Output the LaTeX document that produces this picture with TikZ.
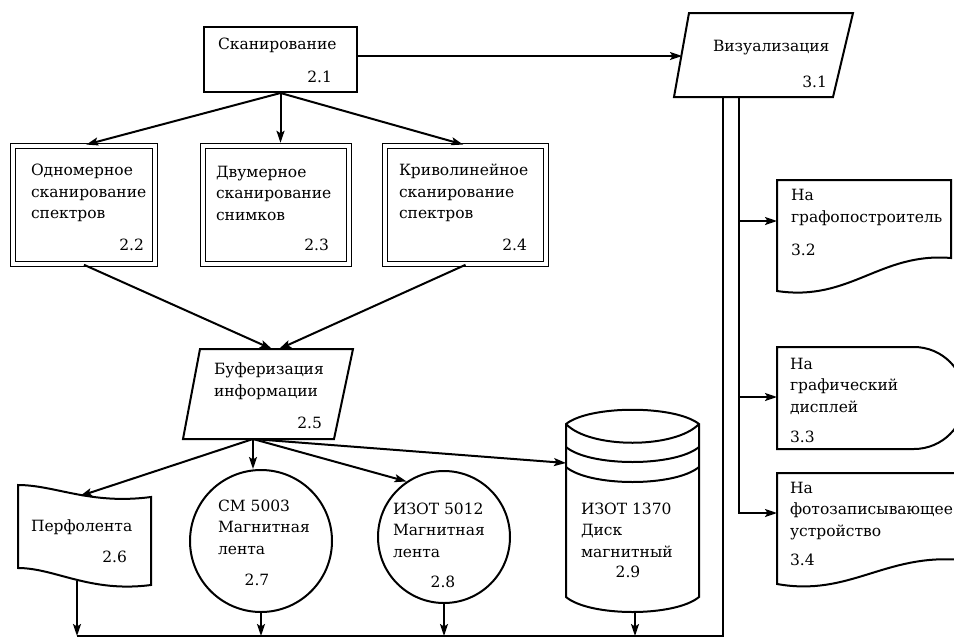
\documentclass[tikz,border=0pt]{standalone}
\usepackage{fontspec}
\setmainfont{DejaVu Serif}
\usetikzlibrary{arrows.meta,calc}

\begin{document}
\begin{tikzpicture}[x=1pt,y=-1pt,line width=2pt,
  arr/.style={-{Stealth[length=12pt,width=8pt,inset=2.5pt]}},
  lbl/.style={inner sep=0pt,align=left,font=\fontsize{15.5pt}{21.5pt}\selectfont},
  box/.style={draw,rectangle,inner sep=0pt},
  dbox/.style={draw,rectangle,inner sep=0pt,double,double distance=3.4pt,
    line width=1.6pt,minimum height=118pt},
  disc/.style={draw,circle,inner sep=0pt}]

\useasboundingbox (0,0) rectangle (954,638);
\fill[white] (0,0) rectangle (954,638);

% --- process blocks
\node[box,minimum width=153pt,minimum height=65pt] (s21) at (280.5,59.5) {};
\node[dbox,minimum width=142pt] (b22) at (84,205) {};
\node[dbox,minimum width=146pt] (b23) at (276,205) {};
\node[dbox,minimum width=161pt] (b24) at (465.5,205) {};

% --- magnetic tape reels
\node[disc,minimum size=142pt] (c27) at (261,541) {};
\node[disc,minimum size=132pt] (c28) at (444,537) {};

% --- input/output parallelograms
\draw (689,13) -- (853,13) -- (833,97) -- (674,97) -- cycle;
\draw (200,349) -- (353,349) -- (334,439) -- (183,439) -- cycle;

% --- punched tape
\draw (18,485) .. controls (55,485) and (90,505) .. (151,497) -- (151,585)
      .. controls (90,593) and (55,568) .. (18,568) -- cycle;

% --- magnetic disk
\draw (566,424) .. controls (590,405) and (675,405) .. (699,424) -- (699,597)
      .. controls (675,617) and (590,617) .. (566,597) -- cycle;
\draw (566,424) .. controls (590,449) and (675,449) .. (699,424);
\draw (566,447) .. controls (590,467) and (675,467) .. (699,447);
\draw (566,467) .. controls (590,487) and (675,487) .. (699,467);

% --- output devices
\draw (777,180) -- (951,180) -- (951,258) .. controls (880,252) and (850,302) .. (777,291) -- cycle;
\draw (777,347) -- (914,347) arc[start angle=-90,end angle=90,radius=51] -- (777,449) -- cycle;
\draw (777,473) -- (962,473) -- (962,560) .. controls (885,553) and (850,597) .. (777,584) -- cycle;

% --- connection points
\coordinate (viz-in) at (682,56);
\coordinate (viz-l) at (723,97);
\coordinate (viz-r) at (739,97);
\coordinate (buf-in-l) at (272,349);
\coordinate (buf-in-r) at (279,349);
\coordinate (buf-out) at (253,439);
\coordinate (tape-in) at (80,496);
\coordinate (tape-out) at (77,581);
\coordinate (disk-in) at (566,463);
\coordinate (disk-out) at (635,612);
\coordinate (bus-l) at (77,636);
\coordinate (bus-r) at (723,636);
\coordinate (in32) at (777,221);
\coordinate (in33) at (777,397);
\coordinate (in34) at (777,513);

% --- connectors
\draw[arr] (s21.east |- viz-in) -- (viz-in);
\draw[arr,shorten >=2.4pt] (s21.south) -- (b22.north);
\draw[arr,shorten >=2.4pt] (s21.south) -- (s21.south |- b23.north);
\draw[arr,shorten >=2.4pt] (s21.south) -- (b24.north);
\draw[arr] (b22.south) -- (buf-in-l);
\draw[arr] (b24.south) -- (buf-in-r);
\draw[arr] (buf-out) -- (tape-in);
\draw[arr] (buf-out) -- (buf-out |- c27.north);
\draw[arr] (buf-out) -- (c28.124);
\draw[arr] (buf-out) -- (disk-in);
\draw[arr] (tape-out) -- (tape-out |- bus-l);
\draw[arr] (c27.south) -- (c27.south |- bus-l);
\draw[arr] (c28.south) -- (c28.south |- bus-l);
\draw[arr] (disk-out) -- (disk-out |- bus-l);
\draw (viz-l) -- (bus-r) -- (bus-l);
\draw[arr] (viz-r) -- (viz-r |- in34) -- (in34);
\draw[arr] (viz-r |- in32) -- (in32);
\draw[arr] (viz-r |- in33) -- (in33);

% --- texts
\node[lbl,anchor=west] (t21) at (217,45) {Сканирование};
\node[lbl,anchor=east] (n21) at (333,77) {2.1};
\node[lbl,anchor=west] (t22) at (30,193) {Одномерное\\сканирование\\спектров};
\node[lbl,anchor=east] (n22) at (145,245) {2.2};
\node[lbl,anchor=west] (t23) at (215,193) {Двумерное\\сканирование\\снимков};
\node[lbl,anchor=east] (n23) at (330,245) {2.3};
\node[lbl,anchor=west] (t24) at (398,193) {Криволинейное\\сканирование\\спектров};
\node[lbl,anchor=east] (n24) at (528,245) {2.4};
\node[lbl,anchor=west] (t31) at (712,48) {Визуализация};
\node[lbl,anchor=east] (n31) at (828,82) {3.1};
\node[lbl,anchor=west] (t25) at (213,381) {Буферизация\\информации};
\node[lbl,anchor=east] (n25) at (323,423) {2.5};
\node[lbl,anchor=west] (t26) at (30,527) {Перфолента};
\node[lbl,anchor=east] (n26) at (128,557) {2.6};
\node[lbl,anchor=west] (t27) at (217,527) {СМ 5003\\Магнитная\\лента};
\node[lbl] (n27) at (257,580) {2.7};
\node[lbl,anchor=west] (t28) at (392,530) {ИЗОТ 5012\\Магнитная\\лента};
\node[lbl] (n28) at (443,582) {2.8};
\node[lbl,anchor=west] (t29) at (580,530) {ИЗОТ 1370\\Диск\\магнитный};
\node[lbl] (n29) at (628,572) {2.9};
\node[lbl,anchor=west] (t32) at (790,207.5) {На\\графопостроитель};
\node[lbl,anchor=west] (n32) at (790,250) {3.2};
\node[lbl,anchor=west] (t33) at (789,386) {На\\графический\\дисплей};
\node[lbl,anchor=west] (n33) at (789,437) {3.3};
\node[lbl,anchor=west] (t34) at (789,511) {На\\фотозаписывающее\\устройство};
\node[lbl,anchor=west] (n34) at (789,560) {3.4};
\end{tikzpicture}
\end{document}
